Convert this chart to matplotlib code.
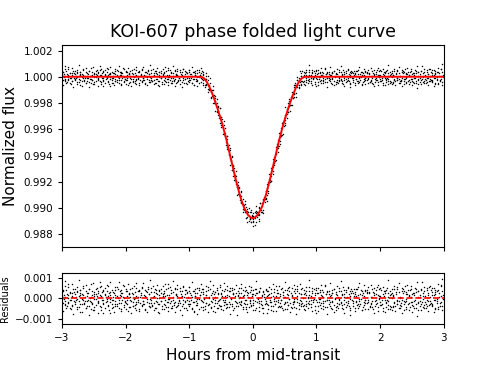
import matplotlib
matplotlib.use("Agg")
import matplotlib.pyplot as plt
import numpy as np

# model light curve (hours, normalized flux)
model_t = [-3.0, -0.85, -0.80, -0.76, -0.72, -0.68, -0.62, -0.55, -0.48, -0.41,
           -0.34, -0.27, -0.20, -0.14, -0.08, -0.03, 0.0, 0.03, 0.08, 0.14,
           0.20, 0.27, 0.34, 0.41, 0.48, 0.55, 0.62, 0.68, 0.72, 0.76,
           0.80, 0.85, 3.0]
model_f = [1.00000, 1.00000, 0.99998, 0.99985, 0.99958, 0.99920, 0.99850, 0.99750, 0.99640, 0.99510,
           0.99365, 0.99220, 0.99090, 0.99005, 0.98950, 0.98927, 0.98922, 0.98927, 0.98950, 0.99005,
           0.99090, 0.99220, 0.99365, 0.99510, 0.99640, 0.99750, 0.99850, 0.99920, 0.99958, 0.99985,
           0.99998, 1.00000, 1.00000]

# folded observation phases, units of 0.01 h
obs_t = [
    -300, -299, -299, -297, -296, -295, -295, -293, -292, -291, -290, -290, -288, -287, -286, -285, -284, -284, -282, -281,
    -280, -280, -278, -277, -276, -276, -274, -273, -272, -271, -271, -269, -268, -267, -267, -265, -264, -263, -262, -261,
    -260, -259, -258, -258, -256, -255, -254, -253, -253, -251, -250, -249, -249, -247, -246, -245, -244, -243, -243, -241,
    -240, -239, -239, -237, -236, -235, -235, -233, -232, -231, -230, -230, -228, -227, -226, -225, -224, -224, -222, -221,
    -220, -220, -218, -217, -216, -216, -214, -213, -212, -211, -211, -209, -208, -207, -207, -205, -204, -203, -202, -201,
    -200, -199, -198, -198, -196, -195, -194, -193, -193, -191, -190, -189, -189, -187, -186, -185, -184, -183, -183, -181,
    -180, -179, -179, -177, -176, -175, -175, -173, -172, -171, -170, -170, -168, -167, -166, -165, -164, -164, -162, -161,
    -160, -160, -158, -157, -156, -156, -154, -153, -152, -151, -151, -149, -148, -147, -147, -145, -144, -143, -142, -141,
    -140, -139, -138, -138, -136, -135, -134, -133, -133, -131, -130, -129, -129, -127, -126, -125, -124, -123, -123, -121,
    -120, -119, -119, -117, -116, -115, -115, -113, -112, -111, -110, -110, -108, -107, -106, -105, -104, -104, -102, -101,
    -100, -100, -98, -97, -96, -96, -94, -93, -92, -91, -91, -89, -88, -87, -87, -85, -84, -83, -82, -81,
    -80, -79, -78, -78, -76, -75, -74, -73, -73, -71, -70, -69, -69, -67, -66, -65, -64, -63, -63, -61,
    -60, -59, -59, -57, -56, -55, -55, -53, -52, -51, -50, -50, -48, -47, -46, -45, -44, -44, -42, -41,
    -40, -40, -38, -37, -36, -36, -34, -33, -32, -31, -31, -29, -28, -27, -27, -25, -24, -23, -22, -21,
    -20, -19, -18, -18, -16, -15, -14, -13, -13, -11, -10, -9, -9, -7, -6, -5, -4, -3, -3, -1,
    0, 1, 1, 3, 4, 5, 5, 7, 8, 9, 10, 10, 12, 13, 14, 15, 16, 16, 18, 19,
    20, 20, 22, 23, 24, 24, 26, 27, 28, 29, 29, 31, 32, 33, 33, 35, 36, 37, 38, 39,
    40, 41, 42, 42, 44, 45, 46, 47, 47, 49, 50, 51, 51, 53, 54, 55, 56, 57, 57, 59,
    60, 61, 61, 63, 64, 65, 65, 67, 68, 69, 70, 70, 72, 73, 74, 75, 76, 76, 78, 79,
    80, 80, 82, 83, 84, 84, 86, 87, 88, 89, 89, 91, 92, 93, 93, 95, 96, 97, 98, 99,
    100, 101, 102, 102, 104, 105, 106, 107, 107, 109, 110, 111, 111, 113, 114, 115, 116, 117, 117, 119,
    120, 121, 121, 123, 124, 125, 125, 127, 128, 129, 130, 130, 132, 133, 134, 135, 136, 136, 138, 139,
    140, 140, 142, 143, 144, 144, 146, 147, 148, 149, 149, 151, 152, 153, 153, 155, 156, 157, 158, 159,
    160, 161, 162, 162, 164, 165, 166, 167, 167, 169, 170, 171, 171, 173, 174, 175, 176, 177, 177, 179,
    180, 181, 181, 183, 184, 185, 185, 187, 188, 189, 190, 190, 192, 193, 194, 195, 196, 196, 198, 199,
    200, 200, 202, 203, 204, 204, 206, 207, 208, 209, 209, 211, 212, 213, 213, 215, 216, 217, 218, 219,
    220, 221, 222, 222, 224, 225, 226, 227, 227, 229, 230, 231, 231, 233, 234, 235, 236, 237, 237, 239,
    240, 241, 241, 243, 244, 245, 245, 247, 248, 249, 250, 250, 252, 253, 254, 255, 256, 256, 258, 259,
    260, 260, 262, 263, 264, 264, 266, 267, 268, 269, 269, 271, 272, 273, 273, 275, 276, 277, 278, 279,
    280, 281, 282, 282, 284, 285, 286, 287, 287, 289, 290, 291, 291, 293, 294, 295, 296, 297, 297, 299,
]

# residuals of the first quarter, units of 1e-5
resid_a = [
    12, -25, 38, -4, 61, -33, 8, -47, 22, 15, -18, 71, -9, 30, -52, 4, 27, -36, 45, -11,
    -28, 19, -6, 53, -41, 33, -15, 9, -64, 24, 40, -2, -30, 17, 58, -21, 6, -45, 35, -13,
    26, -8, 44, -37, 3, -19, 68, -27, 14, -55, 31, 9, -40, 21, -3, 50, -24, 37, -16, 80,
    -35, 11, -58, 29, -7, 42, -23, 16, -49, 5, 33, -12, 61, -31, 24, -4, -71, 18, 39, -26,
    7, -44, 25, -15, 56, -29, 10, -38, 47, -6, -21, 34, -53, 13, 28, -9, 65, -33, 2, -18,
    43, -24, -8, 36, -61, 19, 27, -42, 8, -14, 52, -35, 21, -3, -47, 31, 11, -26, 74, -10,
    -19, 37, -51, 6, 24, -33, 48, -12, -27, 15, 39, -57, 4, 29, -16, 55, -38, 20, -5, -43,
    32, -7, -36, 58, -22, 13, -46, 27, 41, -18, 3, -64, 35, -29, 17, 46, -11, -39, 23, 8,
    -52, 26, 9, -31, 44, -20, -2, 67, -41, 16, -25, 38, -13, -48, 30, 6, -34, 51, -17, 22,
    14, -39, 47, -23, -8, 33, -56, 20, 10, -37, 59, -27, 5, -15, 41, -45, 25, -6, -30, 36,
    -11, 53, -28, 18, -46, 7, 35, -19, -62, 28, 12, -34, 49, -5, -24, 40, -50, 15, 31, -9,
    45, -16, -40, 23, 2, -53, 37, -21, 16, 54, -32, 8, -26, 43, -13, -44, 28, -3, 66, -36,
    -23, 30, -7, -48, 39, -14, 21, -31, 57, -2, -37, 24, 11, -58, 33, -20, 47, -9, -29, 17,
    6, -42, 34, -18, 50, -27, -4, 42, -35, 19, 28, -49, 9, -16, 62, -25, 13, -38, 26, -1,
    -30, 48, -15, 27, -44, 10, -22, 36, -8, -53, 40, 15, -28, 5, -41, 31, -12, 55, -34, 20,
    38, -9, -33, 16, -57, 25, 44, -17, 1, -40, 29, -23, 51, -11, -32, 18, -46, 35, 7, -26,
    -14, 41, -29, 9, 33, -50, 22, -6, -38, 47, -19, 12, -63, 30, -2, -27, 58, -15, 24, -43,
    27, -35, 13, -21, 46, -8, -45, 32, 17, -28, 39, -54, 6, 21, -17, 49, -31, -4, 36, -22,
    -40, 18, 52, -26, -5, 34, -16, 43, -47, 11, -20, 60, -33, 26, -10, -39, 22, 45, -24, 3,
    19, -51, 28, -12, 37, -36, 7, -22, 54, -30, 14, -7, -44, 33, 48, -19, -2, -58, 25, 41,
    -6, 24, -39, 50, -18, -3, 31, -49, 15, 39, -25, 8, -35, 64, -14, 20, -41, 29, -9, -27,
    35, -20, 11, -46, 26, 40, -13, -31, 47, -4, -56, 23, 18, -37, 4, 52, -28, -10, 33, -17,
    -32, 15, -54, 38, -8, 21, -43, 30, 6, -24, 57, -36, 13, -2, -49, 27, 36, -21, -12, 44,
    22, -47, 9, -16, 45, -30, 55, -11, -39, 19, -5, 34, -58, 25, 10, -33, 41, -23, -7, 29,
    -25, 53, -17, 31, -42, 4, -29, 46, -13, -52, 24, 16, -37, 40, -6, -21, 63, -40, 12, -3,
    10, -34, 42, -27, 19, -60, 36, -9, 28, -18, -43, 50, -14, 7, -31, 37, -50, 21, -1, 46,
    -44, 16, -24, 59, -35, 23, -6, -28, 44, -15, 30, -47, 3, -36, 52, -10, 26, -55, 34, -19,
    30, -12, -51, 20, 38, -25, 13, -42, 5, 61, -33, -16, 27, -48, 15, -7, 43, -29, 81, -22,
    -17, 34, -38, 8, -55, 42, -20, 25, -3, -46, 35, 12, -27, 49, -39, 18, -11, 56, -30, 6,
    40, -26, 17, -34, -9, 48, -45, 22, 31, -15, -5, 39, -52, 28, -24, 9, 62, -37, 95, 14,
]

# residuals of the second quarter, same phases, units of 1e-5
resid_b = [
    -5, 33, -62, 18, -27, 84, -14, 41, -39, 2, 57, -21, -48, 26, -9, 70, -33, 12, -76, 29,
    47, -18, 6, -53, 31, -2, 89, -41, 15, -26, 38, -67, 22, -7, 51, -30, -12, 63, -45, 9,
    -36, 24, -81, 44, -15, 7, -50, 35, -24, 72, -4, -58, 19, -33, 46, 13, -69, 28, -11, 55,
    16, -43, 60, -8, -29, 37, -73, 21, 49, -17, -3, 66, -38, 10, -55, 32, -20, 78, -6, -47,
    29, -10, -64, 42, 18, -35, 53, -26, -1, 81, -49, 14, -22, 39, -61, 25, 6, -41, 58, -14,
    -52, 36, 11, -27, 68, -44, 20, -8, 45, -70, 27, -16, -39, 61, 3, -32, 50, -19, -57, 34,
    8, -60, 41, -23, 15, 56, -37, -11, 74, -28, 9, -51, 33, -4, -66, 47, -25, 19, -42, 88,
    -21, 52, -34, 5, -58, 30, 43, -15, -46, 23, 64, -30, 1, -72, 38, -13, 27, -53, 12, 59,
    37, -28, -7, 71, -40, 16, -63, 48, -19, -2, 55, -45, 26, -35, 83, -9, -24, 44, -67, 21,
    -44, 13, 62, -31, -12, 49, -23, 8, -79, 35, -6, 57, -48, 20, -17, 40, -58, 31, 4, -26,
    54, -37, 24, -9, -50, 77, -20, 33, -64, 11, 46, -14, -33, 28, -74, 52, -5, 18, -41, 67,
    -13, 45, -56, 30, -3, -38, 59, -25, 17, -68, 40, 2, -29, 86, -47, 14, -18, 36, -60, 23,
    31, -66, 7, 49, -22, -45, 25, -10, 63, -36, 19, -54, 42, -7, -31, 75, -16, 9, -48, 38,
    -27, 58, -41, 12, -75, 34, -1, 51, -30, 21, -59, 44, -12, -39, 27, -82, 36, 16, -20, 48,
    6, -34, 70, -17, 39, -52, 15, -29, 57, -8, -43, 32, -65, 24, 60, -23, -6, 41, -37, 13,
    -58, 19, -21, 45, -11, 83, -46, 26, -2, -61, 37, -15, 52, -28, 9, -49, 30, -73, 21, -4,
    43, -24, -70, 35, 14, -32, 56, -18, 27, -55, 8, 67, -39, -13, 46, -27, 11, -62, 40, -9,
    -16, 61, -44, 22, -7, -36, 48, -57, 31, 5, -25, 79, -19, 38, -52, 17, -34, 55, -3, -68,
    25, -49, 9, -20, 64, -12, -41, 28, -77, 43, -5, 34, -23, -54, 71, -30, 20, -15, 50, -37,
    -33, 40, -58, 18, -26, 53, 1, -47, 36, -14, 87, -29, 12, -60, 25, -8, 45, -38, 15, -71,
    48, -19, 27, -63, -4, 39, -32, 66, -24, 10, -50, 29, -13, 58, -42, 22, -78, 34, -6, 19,
    -9, 72, -35, 14, -53, 26, -18, 44, -66, 3, 31, -40, 60, -21, -47, 37, -2, -30, 82, -25,
    20, -45, 55, -28, 8, -69, 41, -16, -34, 50, -11, 23, -56, 33, -80, 46, -7, 28, -39, 12,
    -62, 30, -14, 47, -31, 18, -48, 76, -5, -26, 39, -59, 15, -43, 62, -19, 35, -10, -54, 27,
    39, -8, -51, 24, -37, 63, -22, 6, -44, 30, -73, 48, -15, 21, -28, 53, -61, 17, -1, 44,
    -20, 49, -31, -6, 57, -47, 12, -65, 34, -23, 41, -9, -52, 28, 90, -36, 16, -40, 25, -57,
    11, -38, 46, -19, -60, 32, -27, 54, -11, -45, 73, -33, 7, -24, 36, -70, 43, -14, -29, 59,
    -41, 22, -3, 65, -30, 14, -55, 38, -20, 47, -64, 19, -37, 26, -12, 51, -46, 31, -84, 8,
    34, -57, 18, -12, 44, -26, 79, -42, 9, -33, 56, -18, -49, 40, -7, -63, 24, -31, 61, -15,
    -24, 50, -39, 29, -68, 15, -10, 42, -53, 36, -21, 67, -44, 7, -35, 58, -17, -59, 33, -2,
]

na = min(len(obs_t), len(resid_a))
nb = min(len(obs_t), len(resid_b))
t = np.concatenate([obs_t[:na], obs_t[:nb]]) * 0.01
r = np.concatenate([resid_a[:na], resid_b[:nb]]) * 1e-5
flux = np.interp(t, model_t, model_f) + r

fig = plt.figure(figsize=(4.79, 3.70), dpi=100)
ax1 = fig.add_axes([0.1294, 0.3316, 0.7969, 0.5468])
ax2 = fig.add_axes([0.1294, 0.1251, 0.7969, 0.1363])

ax1.plot(t, flux, 'k.', ms=2.1, mew=0)
ax1.plot(model_t, model_f, 'r-', lw=1.4)
ax1.set_xlim(-3, 3)
ax1.set_ylim(0.98701, 1.00242)
ax1.set_yticks([0.988, 0.990, 0.992, 0.994, 0.996, 0.998, 1.000, 1.002])
ax1.set_yticklabels(['0.988', '0.990', '0.992', '0.994', '0.996', '0.998', '1.000', '1.002'])
ax1.set_xticks([-3, -2, -1, 0, 1, 2, 3])
ax1.set_xticklabels([])
ax1.tick_params(labelsize=7.5, length=3)
ax1.set_ylabel('Normalized flux', fontsize=11)
ax1.set_title('KOI-607 phase folded light curve', fontsize=12.5)

ax2.plot(t, r, 'k.', ms=2.1, mew=0)
ax2.axhline(0, color='r', ls='--', lw=1.2)
ax2.set_xlim(-3, 3)
ax2.set_ylim(-0.00123, 0.00121)
ax2.set_yticks([-0.001, 0.0, 0.001])
ax2.set_yticklabels(['\u22120.001', '0.000', '0.001'])
ax2.set_xticks([-3, -2, -1, 0, 1, 2, 3])
ax2.tick_params(labelsize=7.5, length=3)
ax2.set_ylabel('Residuals', fontsize=7)
ax2.yaxis.set_label_coords(-0.135, 0.5)
ax2.set_xlabel('Hours from mid-transit', fontsize=11)

fig.savefig('out.png', dpi=100)
